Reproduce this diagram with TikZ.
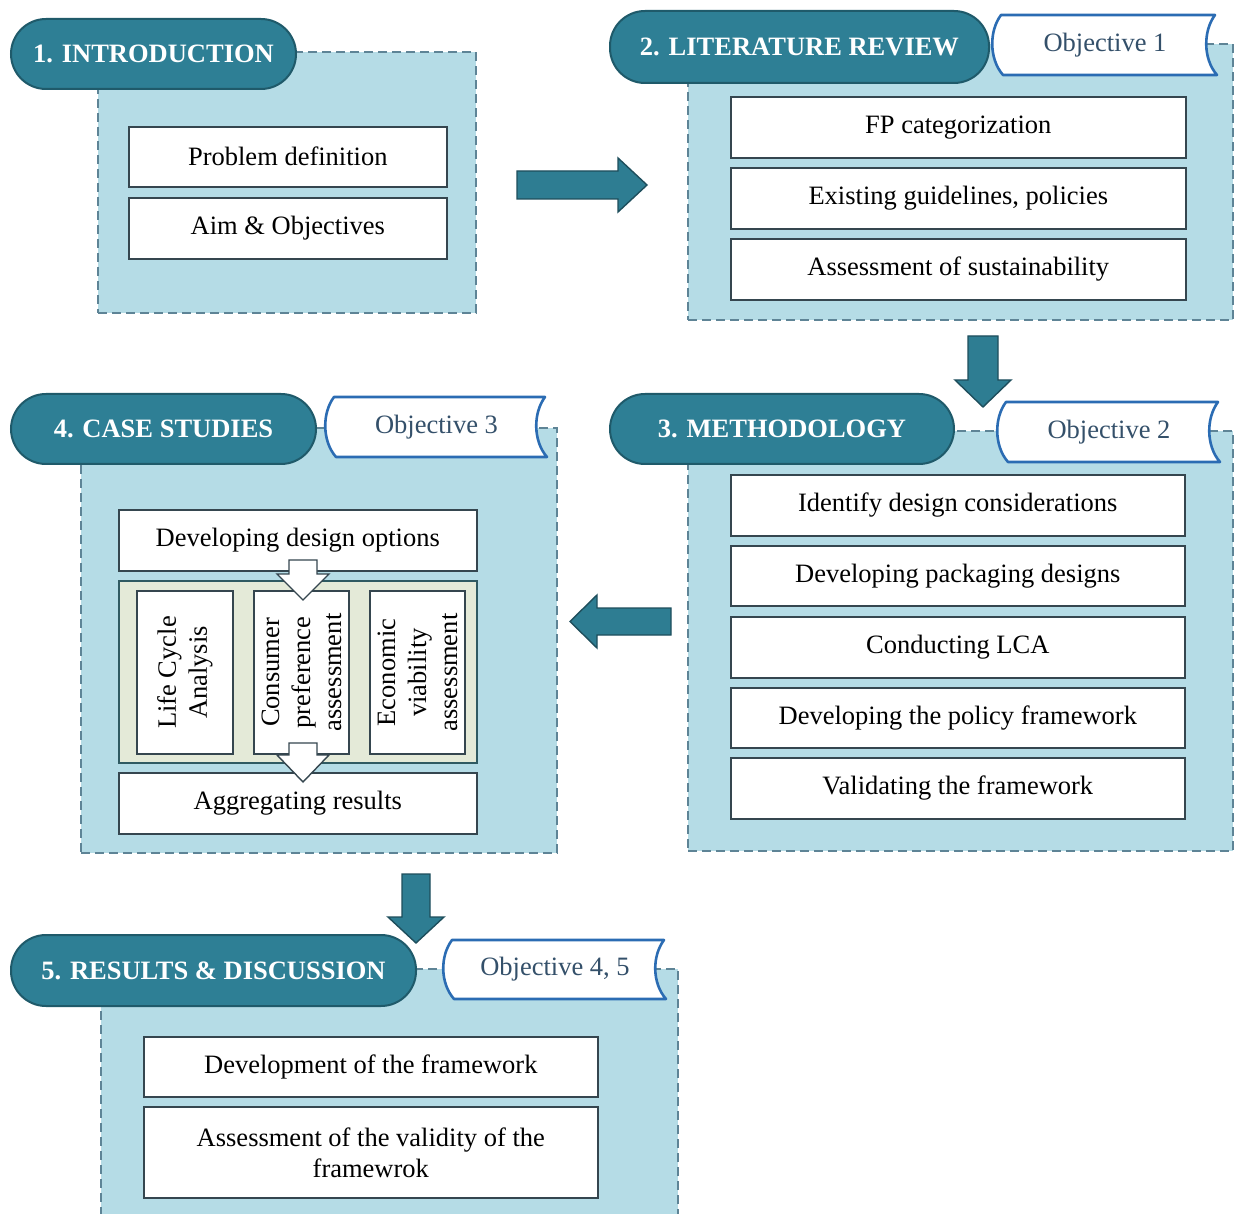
\documentclass[tikz,border=0pt]{standalone}
\usepackage{fontspec}
\setmainfont{Liberation Serif}

\definecolor{pillfill}{HTML}{2E7F95}
\definecolor{pilldraw}{HTML}{1F5A6A}
\definecolor{panelfill}{HTML}{B5DCE6}
\definecolor{paneldraw}{HTML}{5E8496}
\definecolor{boxdraw}{HTML}{35464F}
\definecolor{tabdraw}{HTML}{2B6CB3}
\definecolor{tabtextcol}{HTML}{34506A}
\definecolor{arrowfill}{HTML}{2E7D92}
\definecolor{arrowdraw}{HTML}{1E4E5C}
\definecolor{groupfill}{HTML}{E4EAD8}
\definecolor{groupdraw}{HTML}{2F5A62}

\newcommand\headfont{\bfseries\fontsize{26.5}{30}\selectfont}
\newcommand\boxfont{\fontsize{26.5}{31}\selectfont}

% objective banner: name, left, top, right, bottom, label
\newcommand\objtab[6]{%
  \draw[tabline] (#2+6,#3) -- (#4,#3)
    .. controls (#4-12,#3+16) and (#4-12,#5-16) .. (#4+2,#5)
    -- (#2+8,#5)
    .. controls (#2-6,#5-16) and (#2-6,#3+16) .. (#2+6,#3) -- cycle;
  \node[tabtext] (#1) at ({(#2+#4)/2},{(#3+#5)/2}) {#6};
}

\tikzset{
  panel/.style={draw=paneldraw, fill=panelfill, dash pattern=on 9pt off 5pt,
    line width=1.5pt, anchor=north west, inner sep=0pt, outer sep=0pt},
  pill/.style={draw=pilldraw, fill=pillfill, line width=2pt, rounded corners=35pt,
    anchor=north west, inner sep=0pt, text=white, font=\headfont},
  box/.style={draw=boxdraw, fill=white, line width=1.6pt, anchor=north west,
    inner sep=0pt, font=\boxfont, align=center},
  group/.style={draw=groupdraw, fill=groupfill, line width=1.6pt, anchor=north west,
    inner sep=0pt},
  tabline/.style={draw=tabdraw, fill=white, line width=2.6pt, line join=round},
  tabtext/.style={text=tabtextcol, font=\boxfont, inner sep=0pt},
  bigarrow/.style={draw=arrowdraw, fill=arrowfill, line width=1.4pt, line join=miter},
  smallarrow/.style={draw=boxdraw, fill=white, line width=1.4pt, line join=miter},
}

\begin{document}
\begin{tikzpicture}[x=1pt, y=-1pt]
\useasboundingbox (0,0) rectangle (1235,1214);
\fill[white] (0,0) rectangle (1235,1214);

% ---------- dashed panels ----------
\node[panel, minimum width=378pt, minimum height=261pt] (p1) at (98,52) {};
\node[panel, minimum width=545pt, minimum height=276pt] (p2) at (688,44) {};
\node[panel, minimum width=545pt, minimum height=420pt] (p3) at (688,431) {};
\node[panel, minimum width=476pt, minimum height=425pt] (p4) at (81,428) {};
\node[panel, minimum width=577pt, minimum height=260pt] (p5) at (101,969) {};

% ---------- section headers ----------
\node[pill, minimum width=285pt, minimum height=70pt] (h1) at (10,18) {1. INTRODUCTION};
\node[pill, minimum width=379pt, minimum height=72pt] (h2) at (609,10) {2. LITERATURE REVIEW};
\node[pill, minimum width=344pt, minimum height=70pt] (h3) at (609,393) {3. METHODOLOGY};
\node[pill, minimum width=305pt, minimum height=70pt] (h4) at (10,393) {4. CASE STUDIES};
\node[pill, minimum width=405pt, minimum height=71pt] (h5) at (10,934) {5. RESULTS \& DISCUSSION};

% ---------- objective banners ----------
\objtab{o1}{995}{15}{1215}{75}{Objective 1}
\objtab{o2}{1000}{402}{1218}{462}{Objective 2}
\objtab{o3}{328}{397}{545}{457}{Objective 3}
\objtab{o45}{446}{940}{664}{999}{Objective 4, 5}

% ---------- 1. Introduction ----------
\node[box, minimum width=318pt, minimum height=60pt] (pd) at (128,126) {Problem definition};
\node[box, minimum width=318pt, minimum height=61pt] (ao) at (128,197) {Aim \& Objectives};

% ---------- 2. Literature review ----------
\node[box, minimum width=455pt, minimum height=61pt] (fp) at (730,96) {FP categorization};
\node[box, minimum width=455pt, minimum height=61pt] (eg) at (730,167) {Existing guidelines, policies};
\node[box, minimum width=455pt, minimum height=61pt] (as) at (730,238) {Assessment of sustainability};

% ---------- 3. Methodology ----------
\node[box, minimum width=454pt, minimum height=61pt] (idc) at (730,474) {Identify design considerations};
\node[box, minimum width=454pt, minimum height=60pt] (dpd) at (730,545) {Developing packaging designs};
\node[box, minimum width=454pt, minimum height=61pt] (lca) at (730,616) {Conducting LCA};
\node[box, minimum width=454pt, minimum height=60pt] (dpf) at (730,687) {Developing the policy framework};
\node[box, minimum width=454pt, minimum height=61pt] (vf) at (730,757) {Validating the framework};

% ---------- 4. Case studies ----------
\node[box, minimum width=358pt, minimum height=61pt] (ddo) at (118,509) {Developing design options};
\node[group, minimum width=358pt, minimum height=182pt] (grp) at (118,580) {};
\node[box, anchor=center, rotate=90, minimum width=163pt, minimum height=96pt] (lcan) at (185,672.5) {Life Cycle\\Analysis};
\node[box, anchor=center, rotate=90, minimum width=163pt, minimum height=95pt] (cpa) at (301.5,672.5) {Consumer\\preference\\assessment};
\node[box, anchor=center, rotate=90, minimum width=163pt, minimum height=95pt] (eva) at (417.5,672.5) {Economic\\viability\\assessment};
\node[box, minimum width=358pt, minimum height=61pt] (agg) at (118,772) {Aggregating results};

% white flow arrows inside the case-study block
\draw[smallarrow] (289,560) -- (317,560) -- (317,574) -- (329,574) -- (303,600)
  -- (277,574) -- (289,574) -- cycle;
\draw[smallarrow] (289,743) -- (317,743) -- (317,755) -- (329,755) -- (303,782)
  -- (277,755) -- (289,755) -- cycle;

% ---------- 5. Results & discussion ----------
\node[box, minimum width=454pt, minimum height=60pt] (dev) at (143,1036) {Development of the framework};
\node[box, minimum width=454pt, minimum height=91pt] (val) at (143,1106) {Assessment of the validity of the\\framewrok};

% ---------- block arrows between sections ----------
\draw[bigarrow] (517,171) -- (618,171) -- (618,158) -- (647,185) -- (618,212)
  -- (618,199) -- (517,199) -- cycle;
\draw[bigarrow] (968,336) -- (998,336) -- (998,380) -- (1011,380) -- (983,407)
  -- (955,380) -- (968,380) -- cycle;
\draw[bigarrow] (671,608) -- (671,635) -- (597,635) -- (597,648) -- (570,621.5)
  -- (597,595) -- (597,608) -- cycle;
\draw[bigarrow] (402,874) -- (430,874) -- (430,917) -- (444,917) -- (416,943)
  -- (388,917) -- (402,917) -- cycle;
\end{tikzpicture}
\end{document}
